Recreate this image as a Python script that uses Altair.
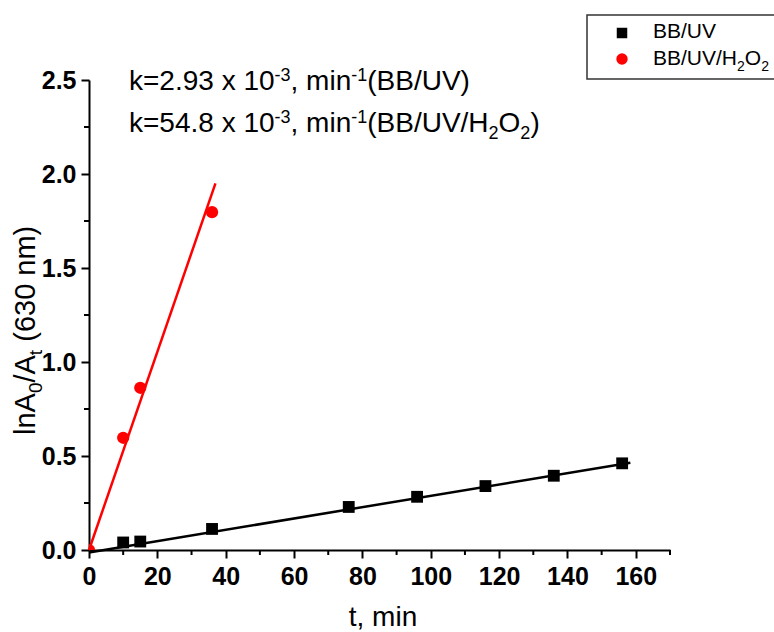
import altair as alt
import pandas as pd

# ---------------- data ----------------
t_bb = [10, 15, 36, 76, 96, 116, 136, 156]
y_bb = [0.040, 0.045, 0.112, 0.229, 0.283, 0.340, 0.395, 0.461]

t_h2o2 = [0, 10, 15, 36]
y_h2o2 = [0.0, 0.597, 0.863, 1.797]

fit_bb_t = [0, 158.4]
fit_bb_y = [-0.013, 0.464]
fit_h2o2_t = [0, 37.0]
fit_h2o2_y = [0.0, 1.95]

x_major = [0, 20, 40, 60, 80, 100, 120, 140, 160]
x_minor = [10, 30, 50, 70, 90, 110, 130, 150, 170]
y_major = [0.0, 0.5, 1.0, 1.5, 2.0, 2.5]
y_minor = [0.25, 0.75, 1.25, 1.75, 2.25]

series_names = ["BB/UV", "BB/UV/H2O2"]

# ---------------- layout ----------------
FONT = "Liberation Sans"
PL, PT, PR, PB = 89, 80, 104, 82
W, H = 581, 470

ARIAL = {'k': 500, '=': 584, '2': 556, '.': 278, '9': 556, '3': 556, ' ': 278,
         'x': 500, '1': 556, '0': 556, ',': 278, 'm': 833, 'i': 222, 'n': 556,
         '(': 333, ')': 333, 'B': 667, '/': 278, 'U': 722, 'V': 667, 'H': 722,
         'O': 778, '-': 333, '5': 556, '4': 556, '8': 556, 'l': 222, 'A': 667,
         't': 278, '6': 556}


def tw(s, size):
    return sum(ARIAL.get(c, 556) for c in s) / 1000.0 * size


def piece(text, x, y, size, angle=0, align="left", weight="normal"):
    return alt.Chart(alt.Data(values=[{}])).mark_text(
        text=text, font=FONT, fontSize=size, align=align, baseline="alphabetic",
        angle=angle, color="black", fontWeight=weight
    ).encode(x=alt.value(x - PL), y=alt.value(y - PT))


def rich_h(segments, x0, base, size, small, rise, drop):
    out = []
    x = x0
    for txt, kind in segments:
        if kind == "n":
            out.append(piece(txt, x, base, size))
            x += tw(txt, size)
        elif kind == "sup":
            out.append(piece(txt, x, base - rise, small))
            x += tw(txt, small)
        else:
            out.append(piece(txt, x, base + drop, small))
            x += tw(txt, small)
    return out


def rich_v(segments, xbase, y0, size, small, drop):
    out = []
    y = y0
    for txt, kind in segments:
        if kind == "n":
            lead = len(txt) - len(txt.lstrip(" "))
            y -= tw(" " * lead, size)
            body = txt.lstrip(" ")
            out.append(piece(body, xbase, y, size, angle=270))
            y -= tw(body, size)
        else:
            out.append(piece(txt, xbase + drop, y, small, angle=270))
            y -= tw(txt, small)
    return out


xscale = alt.Scale(domain=[0, 170], nice=False, zero=False)
yscale = alt.Scale(domain=[0, 2.5], nice=False, zero=False)

xaxis = alt.Axis(values=x_major, format="d", title=None, grid=False,
                 labelFont=FONT, labelFontWeight="bold", labelFontSize=25,
                 labelColor="black", labelPadding=6, tickSize=8, tickWidth=2,
                 tickColor="black", domainColor="black", domainWidth=2,
                 labelFlush=False, labelOverlap=False)
yaxis = alt.Axis(values=y_major, format=".1f", title=None, grid=False,
                 labelFont=FONT, labelFontWeight="bold", labelFontSize=25,
                 labelColor="black", labelPadding=5, tickSize=8, tickWidth=2,
                 tickColor="black", domainColor="black", domainWidth=2,
                 labelFlush=False, labelOverlap=False, labelBaseline="middle")

bb = pd.DataFrame({"t": t_bb, "y": y_bb})
h2 = pd.DataFrame({"t": t_h2o2, "y": y_h2o2})
fbb = pd.DataFrame({"t": fit_bb_t, "y": fit_bb_y})
fh2 = pd.DataFrame({"t": fit_h2o2_t, "y": fit_h2o2_y})

X = lambda: alt.X("t:Q", scale=xscale, axis=xaxis)
Y = lambda: alt.Y("y:Q", scale=yscale, axis=yaxis)

line_bb = alt.Chart(fbb).mark_line(color="black", strokeWidth=2.5).encode(x=X(), y=Y())
line_h2 = alt.Chart(fh2).mark_line(color="#ff0000", strokeWidth=2.5).encode(x=X(), y=Y())
pts_bb = alt.Chart(bb).mark_point(shape="square", filled=True, size=140,
                                  color="black", opacity=1).encode(x=X(), y=Y())
pts_h2 = alt.Chart(h2).mark_circle(size=150, color="#ff0000", opacity=1,
                                   clip=True).encode(x=X(), y=Y())

xmin = alt.Chart(pd.DataFrame({"t": x_minor})).mark_rule(
    color="black", strokeWidth=2).encode(x=X(), y=alt.value(H), y2=alt.value(H + 5))
ymin = alt.Chart(pd.DataFrame({"y": y_minor})).mark_rule(
    color="black", strokeWidth=2).encode(y=Y(), x=alt.value(-5), x2=alt.value(0))

layers = [line_bb, line_h2, pts_bb, pts_h2, xmin, ymin]

# annotation with superscripts / subscripts
line1 = [("k=2.93 x 10", "n"), ("-3", "sup"), (", min", "n"), ("-1", "sup"), ("(BB/UV)", "n")]
line2 = [("k=54.8 x 10", "n"), ("-3", "sup"), (", min", "n"), ("-1", "sup"),
         ("(BB/UV/H", "n"), ("2", "sub"), ("O", "n"), ("2", "sub"), (")", "n")]
layers += rich_h(line1, 129, 90, 28, 18, 9, 7)
layers += rich_h(line2, 129, 132, 28, 18, 9, 7)

# axis titles
layers.append(piece("t, min", 383, 626, 28, align="center"))
ytitle = [("lnA", "n"), ("0", "sub"), ("/A", "n"), ("t", "sub"), (" (630 nm)", "n")]
layers += rich_v(ytitle, 35, 435, 29, 19, 7)

# legend
legbox = alt.Chart(alt.Data(values=[{}])).mark_rect(
    fill="white", stroke="#333333", strokeWidth=1.5
).encode(x=alt.value(587 - PL), x2=alt.value(800 - PL),
         y=alt.value(15 - PT), y2=alt.value(79 - PT))
leg_sq = alt.Chart(alt.Data(values=[{}])).mark_point(
    shape="square", filled=True, size=110, color="black", opacity=1
).encode(x=alt.value(622 - PL), y=alt.value(33 - PT))
leg_ci = alt.Chart(alt.Data(values=[{}])).mark_circle(
    size=130, color="#ff0000", opacity=1
).encode(x=alt.value(622 - PL), y=alt.value(59 - PT))
layers += [legbox, leg_sq, leg_ci]
layers += rich_h([(series_names[0], "n")], 653, 38, 21, 14, 6, 6)
layers += rich_h([("BB/UV/H", "n"), ("2", "sub"), ("O", "n"), ("2", "sub")], 653, 65, 21, 14, 6, 6)

chart = alt.layer(*layers).properties(
    width=W, height=H,
    padding={"left": PL, "top": PT, "right": PR, "bottom": PB},
    autosize=alt.AutoSizeParams(type="none"),
    background="white",
).configure_view(stroke=None)

chart.save("out.html", embed_options={"renderer": "svg", "actions": False})
